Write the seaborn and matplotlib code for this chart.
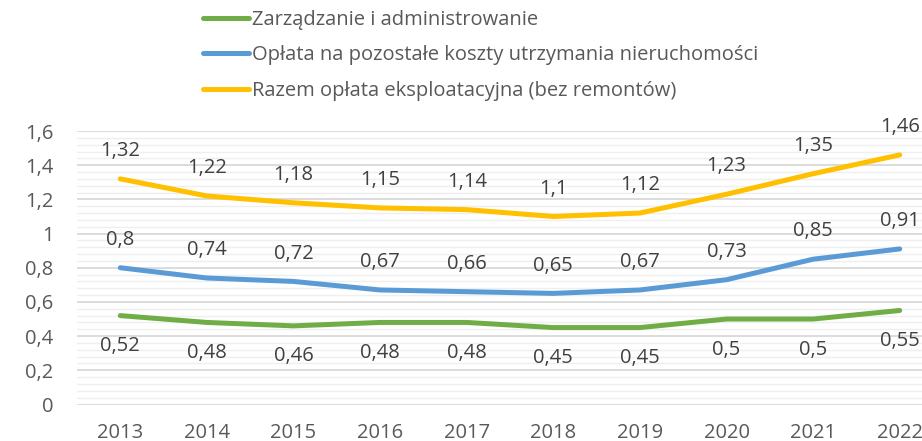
import matplotlib
matplotlib.use("Agg")
import matplotlib.pyplot as plt
from matplotlib.ticker import MultipleLocator, FuncFormatter
import pandas as pd
import seaborn as sns

years = [2013, 2014, 2015, 2016, 2017, 2018, 2019, 2020, 2021, 2022]
zarzadzanie = [0.52, 0.48, 0.46, 0.48, 0.48, 0.45, 0.45, 0.5, 0.5, 0.55]
pozostale = [0.8, 0.74, 0.72, 0.67, 0.66, 0.65, 0.67, 0.73, 0.85, 0.91]
razem = [1.32, 1.22, 1.18, 1.15, 1.14, 1.1, 1.12, 1.23, 1.35, 1.46]

names = ["Zarządzanie i administrowanie",
         "Opłata na pozostałe koszty utrzymania nieruchomości",
         "Razem opłata eksploatacyjna (bez remontów)"]
colors = ["#70AD47", "#5B9BD5", "#FFC000"]

df = pd.DataFrame({
    "rok": years * 3,
    "wartosc": zarzadzanie + pozostale + razem,
    "seria": [names[0]] * 10 + [names[1]] * 10 + [names[2]] * 10,
})

sns.set_style("white")
plt.rcParams["font.family"] = ["Open Sans", "DejaVu Sans"]
text_col = "#595959"

fig = plt.figure(figsize=(9.22, 4.41), dpi=100)
ax = fig.add_axes([77 / 922, 36.5 / 441, 866 / 922, 273.5 / 441])

sns.lineplot(data=df, x="rok", y="wartosc", hue="seria", palette=colors,
             linewidth=3.6, ax=ax, solid_capstyle="round")

ax.set_xlim(2012.5, 2022.5)
ax.set_ylim(0, 1.6)
ax.yaxis.set_major_locator(MultipleLocator(0.2))
ax.yaxis.set_minor_locator(MultipleLocator(0.04))
ax.set_xticks(years)
ax.yaxis.set_major_formatter(FuncFormatter(lambda v, p: f"{v:g}".replace(".", ",")))
ax.grid(which="major", axis="y", color="#D9D9D9", linewidth=1.3)
ax.grid(which="minor", axis="y", color="#EFEFEF", linewidth=1.0)
ax.set_axisbelow(True)
for s in ax.spines.values():
    s.set_visible(False)
ax.tick_params(axis="both", length=0, labelsize=14.5, labelcolor=text_col)
ax.tick_params(axis="x", pad=13)
ax.tick_params(axis="y", pad=17)
ax.set_xlabel("")
ax.set_ylabel("")

def fmt(v):
    return f"{v:g}".replace(".", ",")

for vals, dy in [(razem, 20), (pozostale, 20), (zarzadzanie, -22)]:
    for x, v in zip(years, vals):
        ax.annotate(fmt(v), (x, v), xytext=(0, dy), textcoords="offset points",
                    ha="center", va="center", fontsize=14.5, color="#404040")

handles, labels = ax.get_legend_handles_labels()
leg = ax.legend(handles, labels, loc="upper left", bbox_to_anchor=(189 / 922, 1.01),
                bbox_transform=fig.transFigure, frameon=False, fontsize=14.5,
                handlelength=2.3, handletextpad=0.12, labelspacing=0.78,
                borderpad=0.2)
for t in leg.get_texts():
    t.set_color(text_col)
for line in leg.get_lines():
    line.set_linewidth(3.6)

fig.savefig("out.png", dpi=100)
